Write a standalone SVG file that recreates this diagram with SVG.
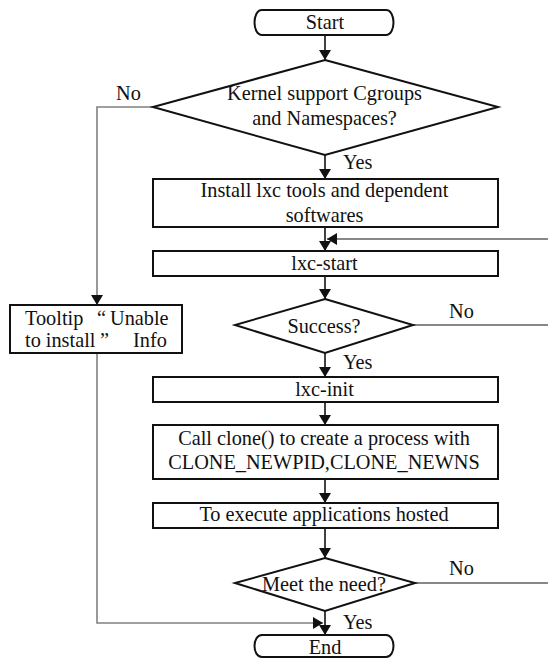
<svg xmlns="http://www.w3.org/2000/svg" width="548" height="659" viewBox="0 0 548 659" font-family="Liberation Serif, Times New Roman, serif" font-size="20.3">
  <defs>
    <marker id="arrow" viewBox="0 0 10 12" refX="10" refY="6" markerWidth="10" markerHeight="12" markerUnits="userSpaceOnUse" orient="auto">
      <path d="M0,0 L10,6 L0,12 Z" fill="#111"/>
    </marker>
    <style>
      .shape { fill: #fff; stroke: #111; stroke-width: 2; }
      .edge { fill: none; stroke: #111; stroke-width: 1.6; }
      .thin { fill: none; stroke: #111; stroke-width: 1.2; }
      .grey { fill: none; stroke: #808080; stroke-width: 1.6; }
      text { fill: #111; text-anchor: middle; }
      .lbl { text-anchor: start; }
    </style>
  </defs>

  <!-- connectors -->
  <g id="connectors">
    <line class="edge" x1="325" y1="35" x2="325" y2="60" marker-end="url(#arrow)"/>
    <line class="edge" x1="325" y1="155" x2="325" y2="179" marker-end="url(#arrow)"/>
    <line class="edge" x1="325" y1="227" x2="325" y2="251" marker-end="url(#arrow)"/>
    <line class="thin" x1="548" y1="239" x2="327" y2="239" marker-end="url(#arrow)"/>
    <line class="edge" x1="325" y1="276" x2="325" y2="299" marker-end="url(#arrow)"/>
    <line class="thin" x1="413" y1="325" x2="548" y2="325"/>
    <line class="edge" x1="325" y1="353" x2="325" y2="377" marker-end="url(#arrow)"/>
    <line class="edge" x1="325" y1="402" x2="325" y2="425" marker-end="url(#arrow)"/>
    <line class="edge" x1="325" y1="479" x2="325" y2="503" marker-end="url(#arrow)"/>
    <line class="edge" x1="325" y1="528" x2="325" y2="558" marker-end="url(#arrow)"/>
    <line class="thin" x1="415" y1="583" x2="548" y2="583"/>
    <line class="edge" x1="325" y1="611" x2="325" y2="635" marker-end="url(#arrow)"/>
    <polyline class="grey" points="153,107 97,107 97,305" marker-end="url(#arrow)"/>
    <polyline class="grey" points="97,353 97,623 323,623" marker-end="url(#arrow)"/>
    <text class="lbl" x="116" y="100">No</text>
    <text class="lbl" x="343" y="169">Yes</text>
    <text class="lbl" x="449" y="318">No</text>
    <text class="lbl" x="343" y="369">Yes</text>
    <text class="lbl" x="449" y="575">No</text>
    <text class="lbl" x="343" y="629">Yes</text>
  </g>

  <g id="start">
    <path class="shape" d="M262,10 H386 C396,10 396,35 386,35 H262 C252,35 252,10 262,10 Z"/>
    <text x="325" y="29">Start</text>
  </g>

  <g id="kernel-check">
    <polygon class="shape" points="325,60 498,107 325,155 153,107"/>
    <text x="324.5" y="100">Kernel support Cgroups</text>
    <text x="324.5" y="125">and Namespaces?</text>
  </g>

  <g id="install">
    <rect class="shape" x="153" y="179" width="345" height="48"/>
    <text x="324.5" y="197">Install lxc tools and dependent</text>
    <text x="324.5" y="222">softwares</text>
  </g>

  <g id="lxc-start">
    <rect class="shape" x="153" y="251" width="345" height="25"/>
    <text x="324.5" y="270">lxc-start</text>
  </g>

  <g id="success">
    <polygon class="shape" points="325,299 413,325 325,353 235,325"/>
    <text x="324" y="333">Success?</text>
  </g>

  <g id="tooltip">
    <rect class="shape" x="10" y="305" width="172" height="48"/>
    <text class="lbl" x="25" y="325">Tooltip</text>
    <text class="lbl" x="97" y="325">“</text>
    <text class="lbl" x="110" y="325">Unable</text>
    <text class="lbl" x="25" y="347">to install</text>
    <text class="lbl" x="100" y="347">”</text>
    <text class="lbl" x="133" y="347">Info</text>
  </g>

  <g id="lxc-init">
    <rect class="shape" x="153" y="377" width="345" height="25"/>
    <text x="324.5" y="396">lxc-init</text>
  </g>

  <g id="clone">
    <rect class="shape" x="153" y="425" width="345" height="54"/>
    <text x="324" y="445">Call clone() to create a process with</text>
    <text x="324" y="469">CLONE_NEWPID,CLONE_NEWNS</text>
  </g>

  <g id="execute">
    <rect class="shape" x="153" y="503" width="345" height="25"/>
    <text x="324" y="521">To execute applications hosted</text>
  </g>

  <g id="meet-need">
    <polygon class="shape" points="325,558 415,583 325,611 235,583"/>
    <text x="324" y="591">Meet the need?</text>
  </g>

  <g id="end">
    <path class="shape" d="M262,635 H386 C396,635 396,657 386,657 H262 C252,657 252,635 262,635 Z"/>
    <text x="325" y="654">End</text>
  </g>
</svg>
